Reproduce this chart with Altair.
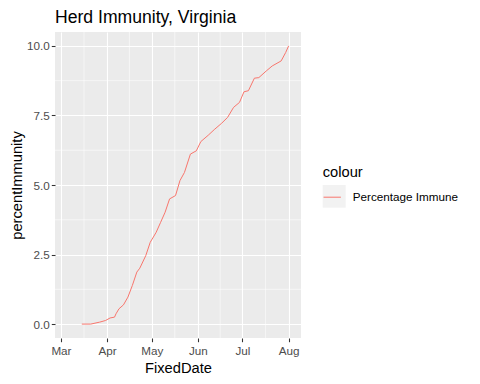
import altair as alt
import pandas as pd

dates = ["2021-03-15","2021-03-21","2021-03-27","2021-03-31","2021-04-03","2021-04-06","2021-04-07",
         "2021-04-09","2021-04-12","2021-04-15","2021-04-18","2021-04-21","2021-04-23","2021-04-27",
         "2021-04-30","2021-05-04","2021-05-07","2021-05-10","2021-05-13","2021-05-17","2021-05-20",
         "2021-05-23","2021-05-27","2021-05-31","2021-06-03","2021-06-08","2021-06-12","2021-06-17",
         "2021-06-21","2021-06-25","2021-06-29","2021-07-02","2021-07-05","2021-07-09","2021-07-12",
         "2021-07-17","2021-07-21","2021-07-27","2021-07-30","2021-08-01"]
percent = [0.0, 0.0, 0.07, 0.13, 0.22, 0.25, 0.37, 0.55, 0.69, 0.97, 1.39, 1.87, 2.01, 2.46,
           2.94, 3.30, 3.66, 4.02, 4.50, 4.62, 5.16, 5.45, 6.11, 6.23, 6.56, 6.79, 6.99, 7.22,
           7.43, 7.79, 7.97, 8.35, 8.39, 8.84, 8.86, 9.10, 9.28, 9.46, 9.76, 10.0]
series_name = "Percentage Immune"

month_breaks = ["2021-03-01", "2021-04-01", "2021-05-01", "2021-06-01", "2021-07-01", "2021-08-01"]
minor_x = ["2021-03-16T12:00:00", "2021-04-16T00:00:00", "2021-05-16T12:00:00",
           "2021-06-16T00:00:00", "2021-07-16T12:00:00"]
y_breaks = [0.0, 2.5, 5.0, 7.5, 10.0]
minor_y = [1.25, 3.75, 6.25, 8.75]

df = pd.DataFrame({"FixedDate": dates, "percentImmunity": percent, "colour": series_name})
df_mx = pd.DataFrame({"d": minor_x})
df_my = pd.DataFrame({"v": minor_y})

FONT = "Liberation Sans"
xscale = alt.Scale(type="utc", domain=[alt.DateTime(year=2021, month=2, date=25, utc=True),
                                        alt.DateTime(year=2021, month=8, date=9, hours=8, utc=True)])
yscale = alt.Scale(domain=[-0.5, 10.5], nice=False, zero=False)

xvals = [alt.DateTime(year=int(s[:4]), month=int(s[5:7]), date=int(s[8:10]), utc=True) for s in month_breaks]

key_bg = alt.Chart(pd.DataFrame({"a": [0]})).mark_rect(color="#F2F2F2").encode(
    x=alt.value(267.7), x2=alt.value(290.7), y=alt.value(153), y2=alt.value(175.7))

grid_x = alt.Chart(df_mx).mark_rule(color="white", strokeWidth=0.55).encode(
    x=alt.X("d:T", scale=xscale))
grid_y = alt.Chart(df_my).mark_rule(color="white", strokeWidth=0.55).encode(
    y=alt.Y("v:Q", scale=yscale))

line = alt.Chart(df).mark_line(strokeWidth=1, interpolate="linear").encode(
    x=alt.X("FixedDate:T", scale=xscale, title="FixedDate",
            axis=alt.Axis(values=xvals, labelExpr="utcFormat(datum.value, '%b')",
                          labelPadding=4, titlePadding=3)),
    y=alt.Y("percentImmunity:Q", scale=yscale, title="percentImmunity",
            axis=alt.Axis(values=y_breaks, format=".1f", labelPadding=2, titlePadding=2)),
    color=alt.Color("colour:N", title="colour",
                    scale=alt.Scale(domain=[series_name], range=["#F8766D"]),
                    legend=alt.Legend(orient="none", legendX=267.7, legendY=133,
                                      symbolType="stroke", symbolStrokeWidth=1, symbolSize=300,
                                      titleFontSize=14.7, titleFont=FONT, titleFontWeight="normal",
                                      titleColor="black", labelFontSize=11.7, labelFont=FONT,
                                      labelColor="black", titlePadding=8, labelOffset=11)),
)

chart = alt.layer(key_bg, grid_x, grid_y, line).properties(
    width=246, height=306,
    autosize=alt.AutoSizeParams(type="none"),
    padding={"left": 47, "top": 24, "right": 160, "bottom": 40},
    title=alt.TitleParams("Herd Immunity, Virginia", anchor="start", frame="group",
                          fontSize=17.6, font=FONT,
                          fontWeight="normal", color="black", offset=5),
).configure_view(fill="#EBEBEB", stroke=None).configure_axis(
    domain=False, grid=True, gridColor="white", gridWidth=1.1,
    tickColor="#333333", tickSize=3.7, tickWidth=1.07,
    labelColor="#4D4D4D", labelFontSize=11.7, labelFont=FONT,
    titleFontSize=14.7, titleFont=FONT, titleFontWeight="normal", titleColor="black",
)

chart.save("out.html", embed_options={"renderer": "svg", "actions": False})
